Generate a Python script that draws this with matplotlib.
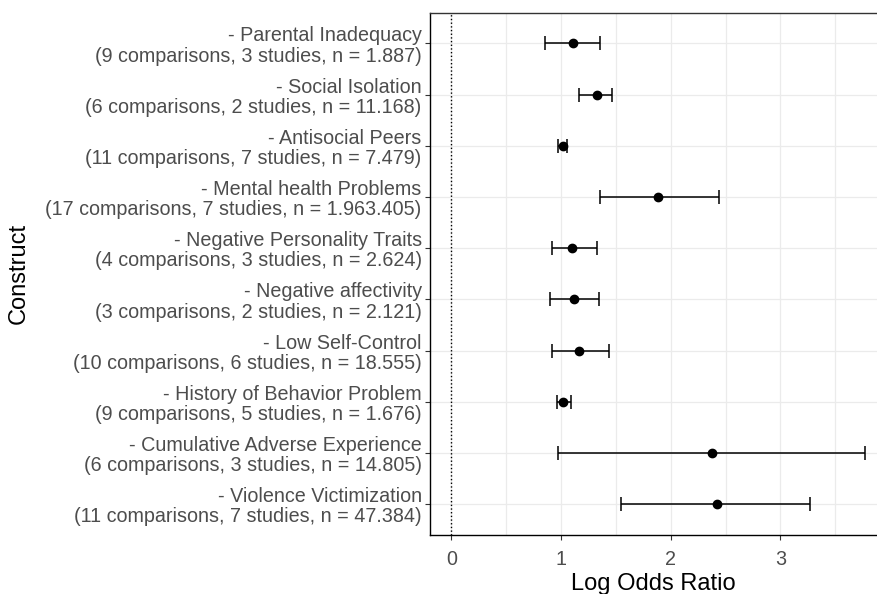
import matplotlib
import matplotlib.pyplot as plt
from matplotlib.ticker import MultipleLocator

matplotlib.use('Agg')

plt.rcParams['font.family'] = ['Liberation Sans', 'DejaVu Sans']

# data, top row first
constructs = [
    "Parental Inadequacy", "Social Isolation", "Antisocial Peers",
    "Mental health Problems", "Negative Personality Traits", "Negative affectivity",
    "Low Self-Control", "History of Behavior Problem", "Cumulative Adverse Experience",
    "Violence Victimization",
]
comparisons = [9, 6, 11, 17, 4, 3, 10, 9, 6, 11]
studies = [3, 2, 7, 7, 3, 2, 6, 5, 3, 7]
sample_n = ["1.887", "11.168", "7.479", "1.963.405", "2.624", "2.121",
            "18.555", "1.676", "14.805", "47.384"]
log_or = [1.107, 1.328, 1.015, 1.887, 1.103, 1.121, 1.167, 1.015, 2.374, 2.419]
ci_low = [0.854, 1.167, 0.975, 1.356, 0.915, 0.900, 0.915, 0.960, 0.975, 1.547]
ci_high = [1.358, 1.465, 1.057, 2.437, 1.328, 1.343, 1.435, 1.094, 3.774, 3.273]

labels = [f"- {c}\n({k} comparisons, {s} studies, n = {n})"
          for c, k, s, n in zip(constructs, comparisons, studies, sample_n)]
ypos = list(range(len(constructs), 0, -1))

fig = plt.figure(figsize=(8.77, 5.94), dpi=100)
ax = fig.add_axes([430 / 877, 1 - 535 / 594, 447 / 877, (535 - 12.7) / 594])

ax.errorbar(
    log_or, ypos,
    xerr=[[m - lo for m, lo in zip(log_or, ci_low)],
          [hi - m for m, hi in zip(log_or, ci_high)]],
    fmt='o', color='black', ecolor='black', markersize=6,
    elinewidth=1.1, capsize=5, capthick=1.1, zorder=3
)
ax.axvline(0, color='black', linestyle=':', linewidth=1.0, zorder=2)

ax.set_xlim(-0.194, 3.881)
ax.set_ylim(0.4, 10.6)
ax.xaxis.set_major_locator(MultipleLocator(1))
ax.xaxis.set_minor_locator(MultipleLocator(0.5))
ax.set_yticks(ypos)
ax.set_yticklabels(labels, linespacing=1.08)

ax.grid(True, which='both', axis='x', color='#EBEBEB', linewidth=0.9, zorder=0)
ax.grid(True, which='major', axis='y', color='#EBEBEB', linewidth=0.9, zorder=0)
ax.set_axisbelow(True)

ax.tick_params(axis='both', which='major', length=3.5, width=0.8, color='#333333',
               labelcolor='#4D4D4D', labelsize=14.2)
ax.tick_params(axis='x', which='major', pad=7.5)
ax.tick_params(axis='y', which='major', pad=2.5)
ax.tick_params(axis='x', which='minor', length=0)

for side in ['left', 'bottom']:
    ax.spines[side].set_color('black')
    ax.spines[side].set_linewidth(1.0)
ax.spines['top'].set_color('#333333')
ax.spines['top'].set_linewidth(1.0)
ax.spines['right'].set_visible(False)

ax.set_xlabel("Log Odds Ratio", fontsize=17, labelpad=3)
ax.set_ylabel("Construct", fontsize=17)
ax.yaxis.set_label_coords(-(430 - 30) / 447, (535 - 273) / (535 - 12.7))

fig.savefig("out.png", dpi=100)
